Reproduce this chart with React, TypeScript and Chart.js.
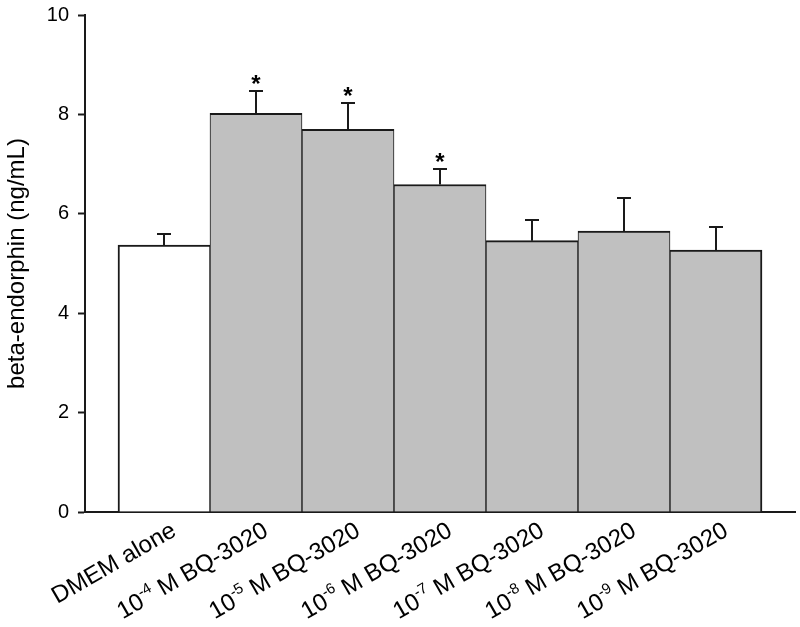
import React, { useEffect, useRef } from "react";
import { Chart, registerables } from "chart.js";

Chart.register(...registerables);

const categories = [
  "DMEM alone",
  "10^-4 M BQ-3020",
  "10^-5 M BQ-3020",
  "10^-6 M BQ-3020",
  "10^-7 M BQ-3020",
  "10^-8 M BQ-3020",
  "10^-9 M BQ-3020",
];
const means = [5.37, 8.02, 7.7, 6.59, 5.46, 5.65, 5.27];
const sem = [0.22, 0.45, 0.53, 0.31, 0.41, 0.66, 0.47];
const significant = [false, true, true, true, false, false, false];
const barColors = ["#ffffff", "#c0c0c0", "#c0c0c0", "#c0c0c0", "#c0c0c0", "#c0c0c0", "#c0c0c0"];
const yTicks = [0, 2, 4, 6, 8, 10];
const yTitle = "beta-endorphin (ng/mL)";

const FONT = '"Liberation Sans", Arial, Helvetica, sans-serif';
const INK = "#1a1a1a";
const LABEL_SIZE = 24;
const SUP_SIZE = 15;

const labelPlugin = {
  id: "rotLabels",
  afterDraw(chart: any) {
    const ctx = chart.ctx;
    const xs = chart.scales.x;
    const bottom = chart.chartArea.bottom;
    categories.forEach((lab, i) => {
      const cx = xs.getPixelForValue(i);
      const m = lab.match(/^(.*?)\^(\S+)(.*)$/);
      const parts = m
        ? [
            { t: m[1], sup: false },
            { t: m[2], sup: true },
            { t: m[3], sup: false },
          ]
        : [{ t: lab, sup: false }];
      ctx.save();
      ctx.translate(cx + 5, bottom + 8);
      ctx.rotate(-Math.PI / 6);
      ctx.fillStyle = "#000";
      ctx.textAlign = "left";
      ctx.textBaseline = "alphabetic";
      const widths = parts.map((p) => {
        ctx.font = p.sup ? `${SUP_SIZE}px ${FONT}` : `${LABEL_SIZE}px ${FONT}`;
        return ctx.measureText(p.t).width;
      });
      const total = widths.reduce((a, b) => a + b, 0);
      let x = -total;
      parts.forEach((p, k) => {
        ctx.font = p.sup ? `${SUP_SIZE}px ${FONT}` : `${LABEL_SIZE}px ${FONT}`;
        ctx.fillText(p.t, x, p.sup ? 17 - 10 : 17);
        x += widths[k];
      });
      ctx.restore();
    });
  },
};

const errorPlugin = {
  id: "errBars",
  afterDatasetsDraw(chart: any) {
    const ctx = chart.ctx;
    const ys = chart.scales.y;
    const meta = chart.getDatasetMeta(0);
    ctx.save();
    ctx.strokeStyle = INK;
    ctx.lineWidth = 2;
    meta.data.forEach((bar: any, i: number) => {
      const x = Math.round(bar.x);
      const yTop = ys.getPixelForValue(means[i]);
      const yErr = Math.round(ys.getPixelForValue(means[i] + sem[i]));
      ctx.beginPath();
      ctx.moveTo(x, yTop);
      ctx.lineTo(x, yErr);
      ctx.moveTo(x - 7, yErr);
      ctx.lineTo(x + 7, yErr);
      ctx.stroke();
      if (significant[i]) {
        ctx.fillStyle = "#000";
        ctx.font = `bold 24px ${FONT}`;
        ctx.textAlign = "center";
        ctx.textBaseline = "alphabetic";
        ctx.fillText("*", x, yErr + 1);
      }
    });
    ctx.restore();
  },
};

export default function App() {
  const ref = useRef<HTMLCanvasElement | null>(null);
  useEffect(() => {
    if (!ref.current) return;
    const n = categories.length;
    const chart = new Chart(ref.current, {
      type: "bar",
      data: {
        datasets: [
          {
            data: means.map((v, i) => ({ x: i, y: v })),
            backgroundColor: barColors,
            borderColor: INK,
            borderWidth: (c: any) => ({
              top: 2,
              bottom: 0,
              left: c.dataIndex === 0 ? 2 : 1,
              right: c.dataIndex === n - 1 ? 2 : 1,
            }),
            borderSkipped: "start",
            barPercentage: 1,
            categoryPercentage: 1,
          } as any,
        ],
      },
      options: {
        animation: false,
        responsive: true,
        maintainAspectRatio: false,
        layout: { padding: { left: 0, right: 5, top: 15, bottom: 0 } },
        plugins: { legend: { display: false }, tooltip: { enabled: false } },
        scales: {
          x: {
            type: "linear",
            offset: false,
            min: -0.8587,
            max: 6.8587,
            afterBuildTicks: (s: any) => {
              s.ticks = categories.map((_, i) => ({ value: i }));
            },
            grid: { display: false, offset: false },
            border: { display: true, color: INK, width: 2 },
            ticks: { display: false },
            afterFit: (s: any) => {
              s.height = 115;
            },
          },
          y: {
            min: 0,
            max: 10,
            afterBuildTicks: (s: any) => {
              s.ticks = yTicks.map((v) => ({ value: v }));
            },
            grid: {
              display: true,
              drawOnChartArea: false,
              drawTicks: true,
              tickLength: 7,
              tickWidth: 2,
              tickColor: INK,
              color: INK,
            },
            border: { display: true, color: INK, width: 2 },
            ticks: {
              padding: 9,
              color: "#000",
              font: { size: 20, family: FONT },
            },
            title: {
              display: true,
              text: yTitle,
              color: "#000",
              font: { size: 24, family: FONT },
              padding: { top: 3, bottom: 0 },
            },
            afterFit: (s: any) => {
              s.width = 85;
              s.paddingTop = 10;
              s.paddingBottom = 10;
            },
          },
        },
      },
      plugins: [errorPlugin, labelPlugin],
    } as any);
    return () => chart.destroy();
  }, []);
  return (
    <div style={{ position: "fixed", left: 0, top: 0, width: 800, height: 627, background: "#fff" }}>
      <canvas ref={ref} />
    </div>
  );
}
